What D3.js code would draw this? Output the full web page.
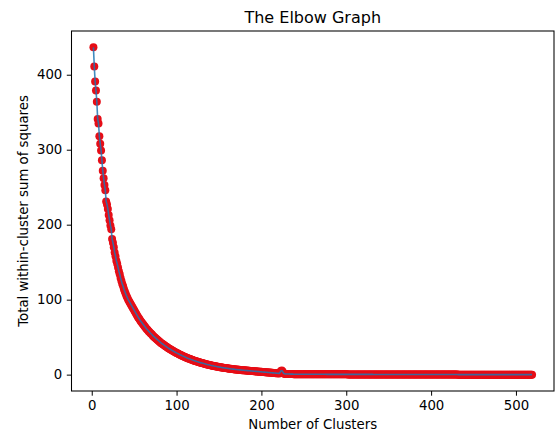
<html>
<head>
<script src="https://d3js.org/d3.v7.min.js"></script>
<style>
  body { margin: 0; background: #fff; }
  text { font-family: "DejaVu Sans", sans-serif; fill: #000; }
</style>
</head>
<body>
<div id="chart"></div>
<script>

// within-cluster sum of squares, starting at k = 2
var wcss = [
  436.5, 411, 391, 379, 364, 341, 335, 318, 308, 299,
  286, 272, 262, 253, 246, 231, 227, 221, 213, 206,
  199, 194, 181, 176, 170, 163, 158, 152, 148, 143,
  138, 134, 129, 125, 121, 118, 114, 111, 108, 105,
  102.5, 100, 98, 96, 94, 92, 90, 88, 86, 84,
  82, 80, 78, 76, 74.5, 72.5, 71, 69.5, 68, 66.5,
  65, 63.5, 62, 60.5, 59.5, 58, 57, 55.5, 54.5, 53.5,
  52, 51, 50, 49, 48, 47, 46, 45, 44, 43,
  42, 41.2, 40.5, 39.6, 38.8, 38, 37.2, 36.4, 35.6, 34.9,
  34.2, 33.5, 32.8, 32.1, 31.5, 30.8, 30.2, 29.6, 29, 28.4,
  27.8, 27.2, 26.6, 26.1, 25.5, 25, 24.5, 24, 23.5, 23,
  22.5, 22, 21.6, 21.1, 20.7, 20.2, 19.8, 19.4, 19, 18.6,
  18.2, 17.8, 17.4, 17.1, 16.7, 16.4, 16, 15.7, 15.4, 15.1,
  14.8, 14.5, 14.2, 13.9, 13.6, 13.3, 13.1, 12.8, 12.5, 12.3,
  12, 11.8, 11.5, 11.3, 11.1, 10.8, 10.6, 10.4, 10.2, 10,
  9.8, 9.6, 9.4, 9.2, 9.0, 8.9, 8.7, 8.5, 8.4, 8.2,
  8.0, 7.9, 7.7, 7.6, 7.4, 7.3, 7.2, 7.0, 6.9, 6.8,
  6.6, 6.5, 6.4, 6.3, 6.1, 6.0, 5.9, 5.8, 5.7, 5.6,
  5.5, 5.4, 5.3, 5.2, 5.1, 5.0, 4.9, 4.8, 4.7, 4.6,
  4.5, 4.4, 4.3, 4.2, 4.1, 4.0, 3.9, 3.8, 3.7, 3.6,
  3.5, 3.4, 3.3, 3.2, 3.1, 3.0, 2.9, 2.8, 2.7, 2.6,
  2.5, 2.4, 2.3, 2.2, 2.1, 2.0, 1.9, 1.8, 1.7, 1.6,
  3.2, 5.0, 5.4, 4.2, 2.0, 1.2, 1.0, 0.9, 0.9, 0.8,
  0.8, 0.8, 0.7, 0.7, 0.7, 0.7, 0.6, 0.6, 0.6, 0.6,
  0.6, 0.6, 0.6, 0.6, 0.6, 0.6, 0.6, 0.6, 0.6, 0.6, 0.6, 0.6, 0.6, 0.6, 0.6,
  0.5, 0.5, 0.5, 0.5, 0.5, 0.5, 0.5, 0.5, 0.5, 0.5, 0.5, 0.5, 0.5, 0.5, 0.5, 0.5, 0.5, 0.5, 0.5, 0.5,
  0.4, 0.4, 0.4, 0.4, 0.4, 0.4, 0.4, 0.4, 0.4, 0.4, 0.4, 0.4, 0.4, 0.4, 0.4, 0.4, 0.4, 0.4, 0.4, 0.4, 0.4, 0.4, 0.4, 0.4, 0.4,
  0.3, 0.3, 0.3, 0.3, 0.3, 0.3, 0.3, 0.3, 0.3, 0.3, 0.3, 0.3, 0.3, 0.3, 0.3, 0.3, 0.3, 0.3, 0.3, 0.3, 0.3, 0.3, 0.3, 0.3, 0.3, 0.3, 0.3, 0.3, 0.3, 0.3,
  0.2, 0.2, 0.2, 0.2, 0.2, 0.2, 0.2, 0.2, 0.2, 0.2, 0.2, 0.2, 0.2, 0.2, 0.2, 0.2, 0.2, 0.2, 0.2, 0.2,
  0.2, 0.2, 0.2, 0.2, 0.2, 0.2, 0.2, 0.2, 0.2, 0.2, 0.2, 0.2, 0.2, 0.2, 0.2, 0.2, 0.2, 0.2, 0.2, 0.2,
  0.1, 0.1, 0.1, 0.1, 0.1, 0.1, 0.1, 0.1, 0.1, 0.1, 0.1, 0.1, 0.1, 0.1, 0.1, 0.1, 0.1, 0.1, 0.1, 0.1,
  0.1, 0.1, 0.1, 0.1, 0.1, 0.1, 0.1, 0.1, 0.1, 0.1, 0.1, 0.1, 0.1, 0.1, 0.1, 0.1, 0.1, 0.1, 0.1, 0.1,
  0.1, 0.1, 0.1, 0.1, 0.1, 0.1, 0.1, 0.1, 0.1, 0.1, 0.1, 0.1, 0.1, 0.1, 0.1, 0.1, 0.1, 0.1, 0.1, 0.1,
  0, 0, 0, 0, 0, 0, 0, 0, 0, 0, 0, 0, 0, 0, 0, 0, 0, 0, 0, 0,
  0, 0, 0, 0, 0, 0, 0, 0, 0, 0, 0, 0, 0, 0, 0, 0, 0, 0, 0, 0,
  0, 0, 0, 0, 0, 0, 0, 0, 0, 0, 0, 0, 0, 0, 0, 0, 0, 0, 0, 0,
  0, 0, 0, 0, 0, 0, 0, 0, 0, 0, 0, 0, 0, 0, 0, 0, 0, 0, 0, 0,
  0, 0, 0, 0, 0, 0, 0, 0
];
// number of clusters for each value
var kValues = wcss.map(function(d, i) { return i + 2; });

var xTicks = [0, 100, 200, 300, 400, 500];
var yTicks = [0, 100, 200, 300, 400];

var titleText = "The Elbow Graph";
var xLabel = "Number of Clusters";
var yLabel = "Total within-cluster sum of squares";

var width = 555, height = 434;
var plotLeft = 71.5, plotRight = 554, plotTop = 31, plotBottom = 391;

// matplotlib style 5% margins
var kMin = d3.min(kValues), kMax = d3.max(kValues);
var kPad = (kMax - kMin) * 0.05;
var yMin = d3.min(wcss), yMax = d3.max(wcss);
var yPad = (yMax - yMin) * 0.05;

var x = d3.scaleLinear().domain([kMin - kPad, kMax + kPad]).range([plotLeft, plotRight]);
var y = d3.scaleLinear().domain([yMin - yPad, yMax + yPad]).range([plotBottom, plotTop]);

var data = wcss.map(function(v, i) { return { k: kValues[i], v: v }; });

var svg = d3.select("#chart").append("svg")
    .attr("width", width)
    .attr("height", height);

svg.append("rect").attr("width", width).attr("height", height).attr("fill", "#fff");

// points first, line over them
svg.append("g")
  .selectAll("circle")
  .data(data)
  .enter()
  .append("circle")
    .attr("cx", function(d) { return x(d.k); })
    .attr("cy", function(d) { return y(d.v); })
    .attr("r", 4)
    .attr("fill", "#e60d16");

var line = d3.line()
    .x(function(d) { return x(d.k); })
    .y(function(d) { return y(d.v); });

svg.append("path")
    .datum(data)
    .attr("d", line)
    .attr("fill", "none")
    .attr("stroke", "#1f77b4")
    .attr("stroke-width", 1.6)
    .attr("stroke-opacity", 0.85);

// axes
var xAxis = svg.append("g")
    .attr("transform", "translate(0," + plotBottom + ")")
    .call(d3.axisBottom(x).tickValues(xTicks).tickSize(4.7).tickPadding(4.5).tickSizeOuter(0));
var yAxis = svg.append("g")
    .attr("transform", "translate(" + plotLeft + ",0)")
    .call(d3.axisLeft(y).tickValues(yTicks).tickSize(4.7).tickPadding(4.5).tickSizeOuter(0));

[xAxis, yAxis].forEach(function(g) {
  g.select(".domain").remove();
  g.selectAll("line").attr("stroke", "#000").attr("stroke-width", 1);
  g.selectAll("text")
    .style("font-family", "DejaVu Sans")
    .style("font-size", "13.3px")
    .attr("fill", "#222");
});

// frame
svg.append("rect")
    .attr("x", plotLeft)
    .attr("y", plotTop)
    .attr("width", plotRight - plotLeft)
    .attr("height", plotBottom - plotTop)
    .attr("fill", "none")
    .attr("stroke", "#000")
    .attr("stroke-width", 1.05);

svg.append("text")
    .attr("x", (plotLeft + plotRight) / 2)
    .attr("y", 23)
    .attr("text-anchor", "middle")
    .style("font-size", "16px")
    .text(titleText);

svg.append("text")
    .attr("x", (plotLeft + plotRight) / 2)
    .attr("y", 429)
    .attr("text-anchor", "middle")
    .style("font-size", "13.3px")
    .attr("fill", "#222")
    .text(xLabel);

svg.append("text")
    .attr("transform", "translate(27.5," + ((plotTop + plotBottom) / 2) + ") rotate(-90)")
    .attr("text-anchor", "middle")
    .style("font-size", "13.3px")
    .attr("fill", "#222")
    .text(yLabel);

</script>
</body>
</html>
